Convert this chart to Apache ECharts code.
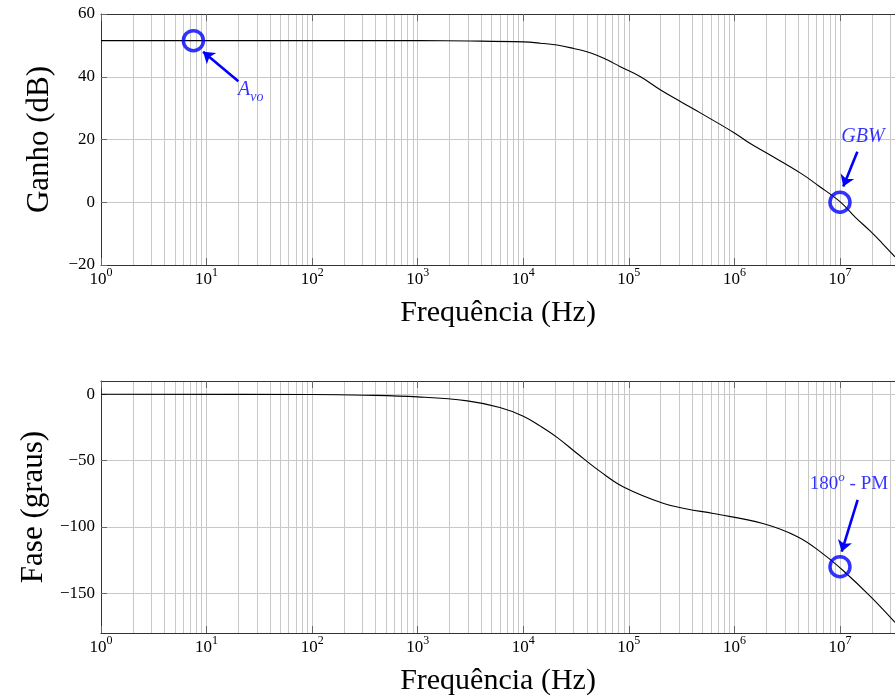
<!DOCTYPE html>
<html><head><meta charset="utf-8">
<script src="https://cdn.jsdelivr.net/npm/echarts@6/dist/echarts.min.js"></script>
<style>html,body{margin:0;padding:0;background:#fff}#c{width:895px;height:697px}</style>
</head><body><div id="c"></div>
<script>
// ---- data ----
const freqGain = [1, 10, 100, 1000, 3162, 10000, 14500, 20900, 30000, 43700, 63000, 83000, 129000, 200000, 316000, 480000, 1000000, 1400000, 2040000, 4270000, 6300000, 10000000, 14000000, 19500000, 25000000, 33200000];
const gainDb   = [51.5, 51.5, 51.5, 51.5, 51.4, 51.1, 50.7, 50.1, 49.0, 47.6, 45.3, 43.2, 40.0, 35.8, 31.9, 28.4, 22.1, 18.8, 15.6, 9.2, 5.2, 0.2, -4.8, -9.3, -13.0, -17.4];
const freqPhase = [1, 100, 316, 1000, 2950, 6000, 10000, 14500, 20900, 32400, 53700, 89000, 214000, 355000, 631000, 1860000, 4000000, 6900000, 10700000, 19500000, 33200000];
const phaseDeg  = [0, -0.2, -0.7, -2, -5, -10, -16.5, -24, -32.5, -44.7, -58.3, -69.9, -82.4, -86.5, -89.9, -97.5, -107.6, -120.3, -132.9, -152.6, -172];
const xExponents = [0, 1, 2, 3, 4, 5, 6, 7];
const gainTicks = [-20, 0, 20, 40, 60];
const phaseTicks = [-150, -100, -50, 0];
const xMin = 1, xMax = 3.32e7;
const gainRange = [-20, 60], phaseRange = [-180, 10];
// annotations
const avoPoint = [7.5, 51.5], gbwPoint = [1e7, 0], pmPoint = [1e7, -130];
const avoArrow = [[20, 38.6], [9.27, 48.0]];
const gbwArrow = [[1.46e7, 16.1], [1.074e7, 5.0]];
const pmArrow  = [[1.47e7, -79.7], [1.038e7, -118.7]];
const avoLabelAt = [19.9, 34.8], gbwLabelAt = [1.65e7, 19.8], pmLabelAt = [1.217e7, -66.2];

// ---- chart ----
const FONT = 'Liberation Serif';
const BLUE = '#0000ff';
const GRIDC = '#c8c8c8';
const AXC = '#333';

const gridLines = [];
xExponents.forEach(n => { for (let k = 1; k <= 9; k++) { const v = k * Math.pow(10, n); if (v <= xMax) gridLines.push(v); } });

const minus = v => v < 0 ? '\u2212' + (-v) : String(v);
const xFmt = v => { const l = Math.log10(v); const e = Math.round(l); if (Math.abs(l - e) > 1e-6 || xExponents.indexOf(e) < 0) return ''; return '{b|10}{s|' + e + '}'; };
const xRich = {
  b: {fontFamily: FONT, fontSize: 17, color: '#000', verticalAlign: 'bottom', lineHeight: 20},
  s: {fontFamily: FONT, fontSize: 12, color: '#000', verticalAlign: 'bottom', lineHeight: 12, padding: [0, 0, 9, 0]}
};

function xAxes(gi) {
  return [{
    type: 'log', logBase: 10, gridIndex: gi, min: xMin, max: xMax, z: 2,
    name: 'Frequência (Hz)', nameLocation: 'middle', nameGap: 33,
    nameTextStyle: {fontFamily: FONT, fontSize: 30, color: '#000'},
    axisLine: {onZero: false, lineStyle: {color: AXC, width: 1}},
    axisTick: {inside: true, length: 7, lineStyle: {color: '#666'}},
    axisLabel: {formatter: xFmt, rich: xRich, margin: 3, showMaxLabel: false},
    splitLine: {show: false}, minorTick: {show: false}, minorSplitLine: {show: false}
  }, {
    type: 'log', logBase: 10, gridIndex: gi, min: xMin, max: xMax, position: 'top', z: 2,
    axisLine: {onZero: false, lineStyle: {color: AXC, width: 1}},
    axisTick: {inside: true, length: 7, lineStyle: {color: '#666'}},
    axisLabel: {show: false}, splitLine: {show: false}
  }];
}

function yAxis(gi, range, name, extra) {
  return Object.assign({
    type: 'value', gridIndex: gi, min: range[0], max: range[1], z: 2,
    name: name, nameLocation: 'middle', nameGap: 46,
    nameTextStyle: {fontFamily: FONT, fontSize: 31, color: '#000'},
    axisLine: {show: true, onZero: false, lineStyle: {color: AXC, width: 1}},
    axisTick: {show: true, inside: true, length: 6, lineStyle: {color: '#666'}},
    axisLabel: {formatter: minus, fontFamily: FONT, fontSize: 17, color: '#000', margin: 6},
    splitLine: {show: true, showMinLine: false, showMaxLine: false, lineStyle: {color: GRIDC, width: 1}}
  }, extra);
}

function gridSeries(xi, yi, data) {
  return {
    type: 'line', xAxisIndex: xi, yAxisIndex: yi, data: [], z: 1, silent: true,
    markLine: {z: 1, silent: true, symbol: 'none', animation: false, label: {show: false},
      lineStyle: {color: GRIDC, width: 1, type: 'solid'}, emphasis: {disabled: true},
      data: data}
  };
}

function curve(xi, yi, fx, fy) {
  return {type: 'line', xAxisIndex: xi, yAxisIndex: yi, z: 3, symbol: 'none', smooth: 0.4,
    lineStyle: {color: '#000', width: 1.1}, data: fx.map((f, i) => [f, fy[i]])};
}

function annot(xi, yi, pt, arrow, labelAt, text, rich) {
  return [{
    type: 'scatter', xAxisIndex: xi, yAxisIndex: yi, z: 4, symbol: 'circle', symbolSize: 20,
    itemStyle: {color: 'rgba(0,0,0,0)', borderColor: BLUE, borderWidth: 3.5},
    data: [pt],
    markLine: {z: 5, silent: true, symbol: ['none', 'arrow'], symbolSize: 11, animation: false,
      label: {show: false}, lineStyle: {color: BLUE, width: 2.6, type: 'solid'}, emphasis: {disabled: true},
      data: [[{coord: arrow[0]}, {coord: arrow[1]}]]}
  }, {
    type: 'scatter', xAxisIndex: xi, yAxisIndex: yi, z: 4, symbolSize: 0, silent: true,
    data: [labelAt],
    label: {show: true, position: text.pos, distance: 0, formatter: text.str, rich: rich}
  }];
}

const labelRich = {
  i: {fontFamily: FONT, fontStyle: 'italic', fontSize: 20, color: BLUE, verticalAlign: 'bottom', lineHeight: 22, padding: [0, 0, 4, 0]},
  sub: {fontFamily: FONT, fontStyle: 'italic', fontSize: 14, color: BLUE, verticalAlign: 'bottom', lineHeight: 14, padding: [0, 0, 0, 0]},
  t: {fontFamily: FONT, fontSize: 19, color: BLUE, verticalAlign: 'bottom', lineHeight: 22},
  sup: {fontFamily: FONT, fontStyle: 'italic', fontSize: 13, color: BLUE, verticalAlign: 'bottom', lineHeight: 13, padding: [0, 0, 9, 0]}
};

const chart = echarts.init(document.getElementById('c'), null, {renderer: 'canvas'});
chart.setOption({
  animation: false,
  backgroundColor: '#fff',
  grid: [
    {left: 101, top: 14, width: 794, height: 251, containLabel: false},
    {left: 101, top: 381, width: 794, height: 252, containLabel: false}
  ],
  xAxis: [...xAxes(0), ...xAxes(1)],
  yAxis: [
    yAxis(0, gainRange, 'Ganho (dB)', {interval: 20}),
    yAxis(1, phaseRange, 'Fase (graus)', {
      axisLabel: {formatter: minus, fontFamily: FONT, fontSize: 17, color: '#000', margin: 6, customValues: phaseTicks},
      axisTick: {show: true, inside: true, length: 6, lineStyle: {color: '#666'}, customValues: phaseTicks},
      splitLine: {show: false}
    })
  ],
  series: [
    gridSeries(0, 0, gridLines.map(v => ({xAxis: v}))),
    gridSeries(2, 1, gridLines.map(v => ({xAxis: v})).concat(phaseTicks.map(v => ({yAxis: v})))),
    curve(0, 0, freqGain, gainDb),
    curve(2, 1, freqPhase, phaseDeg),
    ...annot(0, 0, avoPoint, avoArrow, avoLabelAt, {pos: 'right', str: '{i|A}{sub|vo}'}, labelRich),
    ...annot(0, 0, gbwPoint, gbwArrow, gbwLabelAt, {pos: 'inside', str: '{i|GBW}'}, labelRich),
    ...annot(2, 1, pmPoint, pmArrow, pmLabelAt, {pos: 'inside', str: '{t|180}{sup|o}{t| - PM}'}, labelRich)
  ]
});
</script></body></html>
